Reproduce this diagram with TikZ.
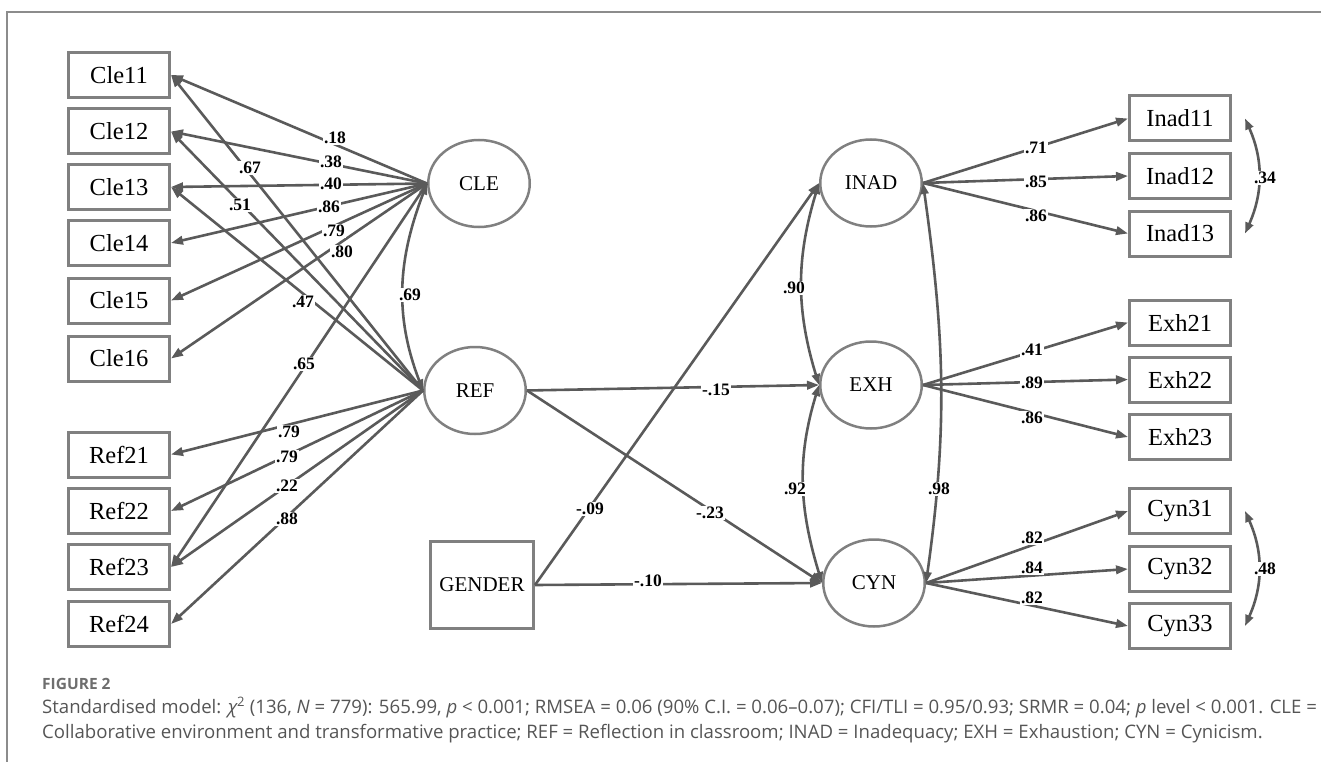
\documentclass[tikz,border=0pt]{standalone}
\usepackage{fontspec}
\setmainfont{Liberation Serif}
\newfontfamily\capfont{Open Sans}
\usetikzlibrary{shapes.geometric,arrows.meta}
\definecolor{linegray}{HTML}{5A5A5A}
\definecolor{boxgray}{HTML}{808080}
\definecolor{framegray}{HTML}{8C8C8C}
\definecolor{captext}{HTML}{555555}
\definecolor{capgray}{HTML}{6E6E6E}
\begin{document}
\begin{tikzpicture}[x=1pt,y=-1pt,
  obs/.style={draw=boxgray, line width=3pt, rectangle, minimum width=101pt, minimum height=45pt, inner sep=0pt, font=\fontsize{24.5}{24.5}\selectfont, text=black},
  gen/.style={draw=boxgray, line width=3pt, rectangle, minimum width=103pt, minimum height=87pt, inner sep=0pt, font=\fontsize{21}{21}\selectfont, text=black},
  lat/.style={draw=boxgray, line width=2.5pt, ellipse, minimum width=101.5pt, minimum height=87pt, inner sep=0pt, font=\fontsize{21}{21}\selectfont, text=black},
  ld/.style={draw=linegray, line width=2.6pt, -{Triangle[length=12pt,width=8.5pt]}},
  cv/.style={draw=linegray, line width=2.6pt, {Triangle[length=11pt,width=8pt]}-{Triangle[length=11pt,width=8pt]}},
  lab/.style={fill=white, inner sep=1.5pt, font=\bfseries\fontsize{17.5}{17.5}\selectfont, text=black},
  capf/.style={anchor=base west, inner sep=0pt, font=\capfont\fontsize{18.6}{18.6}\selectfont, text=captext}
]
\useasboundingbox (0,0) rectangle (1321,762);
\draw[framegray, line width=1.2pt] (1321,12) -- (7,12) -- (7,762);

% observed variables, left
\node[obs] (Cle11) at (119,75) {Cle11};
\node[obs] (Cle12) at (119,131.5) {Cle12};
\node[obs] (Cle13) at (119,187) {Cle13};
\node[obs] (Cle14) at (119,243) {Cle14};
\node[obs] (Cle15) at (119,300.5) {Cle15};
\node[obs] (Cle16) at (119,358.5) {Cle16};
\node[obs] (Ref21) at (119,454.5) {Ref21};
\node[obs] (Ref22) at (119,511) {Ref22};
\node[obs] (Ref23) at (119,567) {Ref23};
\node[obs] (Ref24) at (119,624) {Ref24};

% latent variables
\node[lat] (CLE) at (479,183.5) {CLE};
\node[lat] (REF) at (475,390.5) {REF};
\node[lat] (INAD) at (871,183) {INAD};
\node[lat] (EXH) at (871,385) {EXH};
\node[lat] (CYN) at (874,583) {CYN};
\node[gen] (GENDER) at (482,585) {GENDER};

% observed variables, right
\node[obs] (Inad11) at (1180,118.5) {Inad11};
\node[obs] (Inad12) at (1180,176) {Inad12};
\node[obs] (Inad13) at (1180,233.5) {Inad13};
\node[obs] (Exh21) at (1180,322.5) {Exh21};
\node[obs] (Exh22) at (1180,379.5) {Exh22};
\node[obs] (Exh23) at (1180,437) {Exh23};
\node[obs] (Cyn31) at (1180,511) {Cyn31};
\node[obs] (Cyn32) at (1180,569) {Cyn32};
\node[obs] (Cyn33) at (1180,626) {Cyn33};

% loadings CLE
\foreach \t in {Cle11,Cle12,Cle13,Cle14,Cle15,Cle16,Ref23}
  \draw[ld] (CLE.west) -- (\t.east);
% loadings REF
\foreach \t in {Cle11,Cle12,Cle13,Ref21,Ref22,Ref23,Ref24}
  \draw[ld] (REF.west) -- (\t.east);
% structural paths
\draw[ld] (REF.east) -- (EXH.west);
\draw[ld] (REF.east) -- (CYN.west);
\draw[ld] (GENDER.east) -- (INAD.west);
\draw[ld] (GENDER.east) -- (CYN.west);
% loadings right
\foreach \t in {Inad11,Inad12,Inad13}
  \draw[ld] (INAD.east) -- (\t.west);
\foreach \t in {Exh21,Exh22,Exh23}
  \draw[ld] (EXH.east) -- (\t.west);
\foreach \t in {Cyn31,Cyn32,Cyn33}
  \draw[ld] (CYN.east) -- (\t.west);

% covariances
\draw[cv] (CLE.west) to[out=249,in=111] (REF.west);
\draw[cv] (INAD.west) to[out=253,in=107] (EXH.west);
\draw[cv] (EXH.west) to[out=253,in=107] (CYN.west);
\draw[cv] (INAD.east) to[out=278,in=82] (CYN.east);
\draw[cv] ([xshift=13pt]Inad11.east) to[out=-66,in=66] ([xshift=13pt]Inad13.east);
\draw[cv] ([xshift=13pt]Cyn31.east) to[out=-66,in=66] ([xshift=13pt]Cyn33.east);

% labels
\node[lab] (l18) at (335,138) {.18};
\node[lab] (l38) at (331,162) {.38};
\node[lab] (l40) at (331,184) {.40};
\node[lab] (l86) at (329,207) {.86};
\node[lab] (l79a) at (334,231) {.79};
\node[lab] (l80) at (342,252) {.80};
\node[lab] (l67) at (250,168) {.67};
\node[lab] (l51) at (240,205) {.51};
\node[lab] (l47) at (303,302) {.47};
\node[lab] (l65) at (304,364) {.65};
\node[lab] (l69) at (410,295) {.69};
\node[lab] (l79b) at (289,432) {.79};
\node[lab] (l79c) at (287,457) {.79};
\node[lab] (l22) at (287,486) {.22};
\node[lab] (l88) at (287,519) {.88};
\node[lab] (m15) at (716,390) {-.15};
\node[lab] (m09) at (590,509) {-.09};
\node[lab] (m23) at (710,513) {-.23};
\node[lab] (m10) at (648,581) {-.10};
\node[lab] (c90) at (794,288) {.90};
\node[lab] (c92) at (795,489) {.92};
\node[lab] (c98) at (939,489) {.98};
\node[lab] (r71) at (1036,148) {.71};
\node[lab] (r85) at (1036,182) {.85};
\node[lab] (r86a) at (1036,216) {.86};
\node[lab] (r41) at (1032,350) {.41};
\node[lab] (r89) at (1032,383) {.89};
\node[lab] (r86b) at (1032,418) {.86};
\node[lab] (r82a) at (1032,538) {.82};
\node[lab] (r84) at (1032,568) {.84};
\node[lab] (r82b) at (1032,598) {.82};
\node[lab] (r34) at (1265,178) {.34};
\node[lab] (r48) at (1265,569) {.48};

% caption
\node[anchor=base west, inner sep=0pt, font=\capfont\bfseries\fontsize{15.5}{15.5}\selectfont, text=capgray] (figlab) at (42,689) {FIGURE 2};
\node[capf] (cap1) at (42,713) {Standardised model: {\itshape χ}\textsuperscript{2} (136, \textit{N} = 779): 565.99, \textit{p} < 0.001; RMSEA = 0.06 (90\% C.I. = 0.06–0.07); CFI/TLI = 0.95/0.93; SRMR = 0.04; \textit{p} level < 0.001. CLE =};
\node[capf] (cap2) at (42,738) {Collaborative environment and transformative practice; REF = Reflection in classroom; INAD = Inadequacy; EXH = Exhaustion; CYN = Cynicism.};
\end{tikzpicture}
\end{document}
